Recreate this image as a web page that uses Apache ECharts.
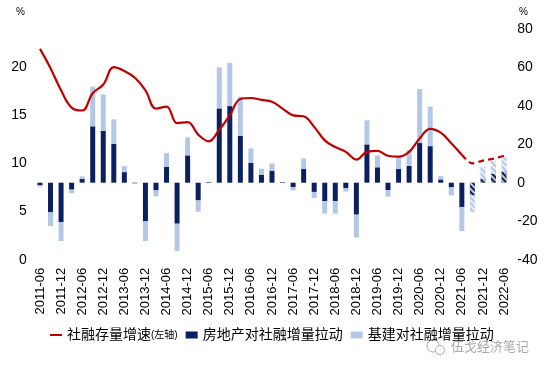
<!DOCTYPE html>
<html>
<head>
<meta charset="utf-8">
<script src="https://cdn.jsdelivr.net/npm/echarts@6/dist/echarts.min.js"></script>
<style>
html,body{margin:0;padding:0;background:#fff;}
#c{width:550px;height:372px;}
</style>
</head>
<body>
<div id="c"></div>
<script>
// Quarterly categories
var categories = ['2011-06','2011-09','2011-12','2012-03','2012-06','2012-09','2012-12','2013-03','2013-06','2013-09','2013-12','2014-03','2014-06','2014-09','2014-12','2015-03','2015-06','2015-09','2015-12','2016-03','2016-06','2016-09','2016-12','2017-03','2017-06','2017-09','2017-12','2018-03','2018-06','2018-09','2018-12','2019-03','2019-06','2019-09','2019-12','2020-03','2020-06','2020-09','2020-12','2021-03','2021-06','2021-09','2021-12','2022-03','2022-06'];
// 社融存量增速 (left axis, %)
var tsfGrowth = [21.9,19.9,17.6,15.8,15.5,17.3,18.2,20.0,19.6,18.9,17.6,15.7,15.9,14.2,14.3,13.0,12.3,13.5,15.0,16.7,16.8,16.6,16.4,15.7,15.0,14.9,13.8,12.4,11.7,11.2,10.4,11.2,11.3,10.8,10.7,11.2,12.6,13.6,13.2,12.1,10.9,10.0,10.3,10.5,10.8];
// 房地产对社融增量拉动 (right axis, %)
var realEstate = [-1.4,-15.4,-20.4,-3.6,1.9,29.3,27.0,20.1,5.5,-0.3,-19.9,-4.0,8.3,-21.3,14.2,-9.2,0.3,38.6,39.8,24.4,10.4,4.0,6.2,0.3,-2.3,7.1,-4.8,-9.5,-9.5,-2.9,-16.6,19.9,8.0,-3.8,7.1,8.7,20.6,19.0,1.7,-2.4,-12.6,-6.6,2.1,4.7,5.9];
// 基建对社融增量拉动 (right axis, %)
var infra = [-0.7,-7.1,-9.9,-1.9,1.4,20.6,18.9,12.8,3.1,-0.2,-10.4,-3.1,7.1,-14.2,9.4,-5.9,0,21.3,22.5,20.3,7.4,3.3,3.8,0,-1.7,5.5,-3.1,-6.6,-6.6,-1.7,-11.9,12.5,6.1,-3.5,6.4,8.3,28.1,20.6,1.7,-4.2,-12.5,-8.7,6.2,6.7,7.3];
var forecastStart = 41; // 2021-09 onward forecast (hatched / dashed)
var solidEnd = 40;      // 2021-06

var leftTicks = [0,5,10,15,20];
var rightTicks = [-40,-20,0,20,40,60,80];

var FONT = 'Liberation Sans, Arial, Noto Sans CJK SC, sans-serif';
var NAVY = '#0b2060';
var LIGHT = '#b4c7e7';
var RED = '#c00000';

function barData(arr) {
  return arr.map(function (v, i) {
    if (i >= forecastStart) {
      return { value: v, itemStyle: { decal: { color: 'rgba(255,255,255,0.75)', dashArrayX: [1, 0], dashArrayY: [1.5, 1.5], rotation: Math.PI / 4, symbol: 'rect' } } };
    }
    return v;
  });
}
var solidLine = tsfGrowth.map(function (v, i) { return i <= solidEnd ? v : null; });
var dashLine = tsfGrowth.map(function (v, i) { return i >= solidEnd ? v : null; });

var chart = echarts.init(document.getElementById('c'), null, { renderer: 'canvas' });
chart.setOption({
  animation: false,
  textStyle: { fontFamily: FONT },
  grid: { left: 34.7, right: 40.7, top: 28.7, bottom: 112.3, containLabel: false },
  legend: {
    left: 44, top: 323,
    itemWidth: 12, itemHeight: 7, itemGap: 8,
    textStyle: { fontSize: 14, color: '#000', fontFamily: FONT,
      rich: { a: { fontSize: 14, color: '#000' }, b: { fontSize: 10, color: '#000' } } },
    formatter: function (name) {
      if (name === '社融存量增速(左轴)') return '{a|社融存量增速}{b|(左轴)}';
      return name;
    },
    data: [
      { name: '社融存量增速(左轴)', itemStyle: { opacity: 0 } },
      { name: '房地产对社融增量拉动', icon: 'rect' },
      { name: '基建对社融增量拉动', icon: 'rect' }
    ]
  },
  xAxis: {
    type: 'category',
    data: categories,
    boundaryGap: true,
    axisLine: { show: false },
    axisTick: { show: false },
    axisLabel: { interval: 1, rotate: 90, fontSize: 13, color: '#000', margin: 8, fontFamily: FONT }
  },
  yAxis: [
    {
      type: 'value', min: 0, max: 24, interval: 5, position: 'left',
      splitLine: { show: false }, axisLine: { show: false }, axisTick: { show: false },
      axisLabel: { fontSize: 14, color: '#000', margin: 8, showMaxLabel: false, fontFamily: FONT,
        formatter: function (v) { return leftTicks.indexOf(v) >= 0 ? String(v) : ''; } }
    },
    {
      type: 'value', min: -40, max: 80, interval: 20, position: 'right',
      splitLine: { show: false }, axisLine: { show: false }, axisTick: { show: false },
      axisLabel: { fontSize: 14, color: '#000', margin: 8, fontFamily: FONT,
        formatter: function (v) { return rightTicks.indexOf(v) >= 0 ? String(v) : ''; } }
    }
  ],
  series: [
    {
      name: '房地产对社融增量拉动', type: 'bar', yAxisIndex: 1, stack: 'pull',
      barWidth: 5, itemStyle: { color: NAVY }, data: barData(realEstate), z: 2
    },
    {
      name: '基建对社融增量拉动', type: 'bar', yAxisIndex: 1, stack: 'pull',
      barWidth: 5, itemStyle: { color: LIGHT }, data: barData(infra), z: 2
    },
    {
      name: '社融存量增速(左轴)', type: 'line', yAxisIndex: 0, smooth: 0.4,
      symbol: 'none', showSymbol: false, connectNulls: false,
      lineStyle: { color: RED, width: 2.2 }, itemStyle: { color: RED },
      data: solidLine, z: 5
    },
    {
      name: '社融存量增速预测', type: 'line', yAxisIndex: 0, smooth: 0.3,
      symbol: 'none', showSymbol: false,
      lineStyle: { color: RED, width: 2.2, type: [6, 4] }, itemStyle: { color: RED },
      data: dashLine, z: 5
    }
  ],
  graphic: [
    { type: 'text', left: 16, top: 7, style: { text: '%', fontSize: 10, fill: '#000', fontFamily: FONT } },
    { type: 'text', left: 519, top: 7, style: { text: '%', fontSize: 10, fill: '#000', fontFamily: FONT } },
    { type: 'circle', shape: { cx: 433, cy: 346, r: 6 }, style: { fill: 'none', stroke: '#aaa', lineWidth: 1 } },
    { type: 'circle', shape: { cx: 440, cy: 350, r: 4.5 }, style: { fill: '#fff', stroke: '#aaa', lineWidth: 1 } },
    { type: 'text', left: 451, top: 340, style: { text: '伍戈经济笔记', fontSize: 13, fill: '#aaa', fontFamily: 'Noto Sans CJK SC' } }
  ]
});
</script>
</body>
</html>
